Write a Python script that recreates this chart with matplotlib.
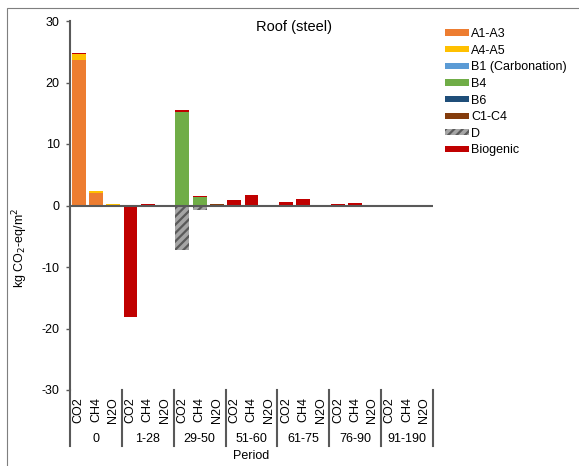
import numpy as np
import matplotlib
matplotlib.use('Agg')
import matplotlib.pyplot as plt
from matplotlib.patches import Rectangle

plt.rcParams['font.family'] = ['Liberation Sans', 'DejaVu Sans']
plt.rcParams['hatch.linewidth'] = 1.6
plt.rcParams['axes.unicode_minus'] = False

# periods and gases on the x axis
periods = ['0', '1-28', '29-50', '51-60', '61-75', '76-90', '91-190']
gases = ['CO2', 'CH4', 'N2O']

# one value per bar (period x gas), kg CO2-eq/m2
a1_a3 = [23.7, 2.05, 0.15, 0, 0, 0, 0, 0, 0, 0, 0, 0, 0, 0, 0, 0, 0, 0, 0, 0, 0]
a4_a5 = [0.9, 0.25, 0.15, 0, 0, 0, 0, 0, 0, 0, 0, 0, 0, 0, 0, 0, 0, 0, 0, 0, 0]
b1 = [0, 0, 0, 0, 0, 0, 0, 0, 0, 0, 0, 0, 0, 0, 0, 0, 0, 0, 0, 0, 0]
b4 = [0, 0, 0, 0, 0, 0, 15.2, 1.45, 0, 0, 0, 0, 0, 0, 0, 0, 0, 0, 0, 0, 0]
b6 = [0, 0, 0, 0, 0, 0, 0, 0, 0, 0, 0, 0, 0, 0, 0, 0, 0, 0, 0, 0, 0]
c1_c4 = [0, 0, 0, 0, 0, 0, 0, 0, 0.2, 0, 0, 0, 0, 0, 0, 0, 0, 0, 0, 0, 0]
d = [0, 0, 0, 0, 0, 0, -7.3, -0.7, 0, 0, 0, 0, 0, 0, 0, 0, 0, 0, 0, 0, 0]
biogenic = [0.15, 0, 0, -18.1, 0.3, 0, 0.3, 0.15, 0, 0.9, 1.7, 0, 0.6, 1.05, 0, 0.25, 0.4, 0, 0, 0.15, 0]

series = [
    ('A1-A3', a1_a3, '#ED7D31', None),
    ('A4-A5', a4_a5, '#FFC000', None),
    ('B1 (Carbonation)', b1, '#5B9BD5', None),
    ('B4', b4, '#70AD47', None),
    ('B6', b6, '#1F4E79', None),
    ('C1-C4', c1_c4, '#843C0C', None),
    ('D', d, '#A5A5A5', '////'),
    ('Biogenic', biogenic, '#C00000', None),
]

fig = plt.figure(figsize=(5.79, 4.66), dpi=100)
ax = fig.add_axes([70/579, 1-390/466, 363/579, 369/466])

x = np.arange(len(periods) * len(gases))
pos = np.zeros(len(x))
neg = np.zeros(len(x))
for name, vals, col, hatch in series:
    v = np.array(vals, dtype=float)
    bottom = np.where(v >= 0, pos, neg)
    if hatch:
        ax.bar(x, v, 0.8, bottom=bottom, color=col, hatch=hatch,
               edgecolor='#5a5a5a', linewidth=0, label=name)
    else:
        ax.bar(x, v, 0.8, bottom=bottom, color=col, linewidth=0, label=name)
    pos += np.where(v >= 0, v, 0)
    neg += np.where(v < 0, v, 0)

ax.set_xlim(-0.5, len(x) - 0.5)
ax.set_ylim(-30, 30)
ax.set_yticks(range(-30, 31, 10))
ax.axhline(0, color='#595959', lw=1.5, zorder=3)

for s in ['top', 'right', 'bottom']:
    ax.spines[s].set_visible(False)
ax.spines['left'].set_color('#595959')
ax.spines['left'].set_linewidth(1.5)
ax.tick_params(axis='y', length=3, width=1, color='#595959', labelsize=9, pad=4.5)
ax.tick_params(axis='x', length=0, labelsize=9, pad=5)

ax.set_xticks(x)
ax.set_xticklabels(gases * len(periods), rotation=90)

# period labels and separators under the axis
trans = ax.get_xaxis_transform()
for i, p in enumerate(periods):
    ax.text(i * 3 + 1, -0.132, p, transform=trans, ha='center', va='center', fontsize=9)
for k in range(len(periods) + 1):
    ax.plot([k * 3 - 0.5, k * 3 - 0.5], [0, -0.152], transform=trans,
            color='#595959', lw=1.5, clip_on=False)

ax.text(0.5, -0.18, 'Period', transform=ax.transAxes, ha='center', va='center', fontsize=9)
fig.text(20/579, 1-248/466, 'kg CO$_2$-eq/m$^2$', rotation=90, ha='center', va='center', fontsize=9)
ax.text(0.616, 0.985, 'Roof (steel)', transform=ax.transAxes, ha='center', va='center', fontsize=10.5)

ax.legend(loc='upper left', bbox_to_anchor=(445/579, 1-28/466), bbox_transform=fig.transFigure,
          frameon=False, fontsize=9, handlelength=1.9, handleheight=0.4,
          handletextpad=0.2, labelspacing=0.37, borderpad=0, borderaxespad=0)

# outer border (left and top edges visible)
fig.patches.append(Rectangle((7/579, -0.1), 1.2, 1 - 8/466 + 0.1, transform=fig.transFigure,
                             fill=False, edgecolor='#7f7f7f', lw=0.8))

fig.savefig('out.png', dpi=100)
